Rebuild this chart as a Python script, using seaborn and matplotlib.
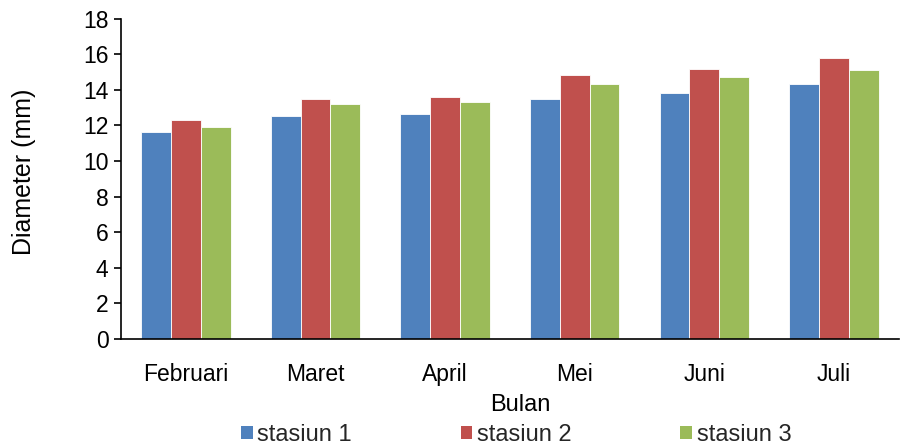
import matplotlib
matplotlib.use("Agg")
import matplotlib.pyplot as plt
from matplotlib.patches import Patch
import seaborn as sns
import pandas as pd

months = ["Februari", "Maret", "April", "Mei", "Juni", "Juli"]
stasiun_1 = [11.6, 12.5, 12.65, 13.5, 13.8, 14.3]
stasiun_2 = [12.3, 13.5, 13.6, 14.8, 15.15, 15.8]
stasiun_3 = [11.9, 13.2, 13.3, 14.3, 14.7, 15.1]
series_names = ["stasiun 1", "stasiun 2", "stasiun 3"]
colors = ["#4F81BD", "#C0504D", "#9BBB59"]

rows = []
for name, vals in zip(series_names, [stasiun_1, stasiun_2, stasiun_3]):
    for m, v in zip(months, vals):
        rows.append({"Bulan": m, "Stasiun": name, "Diameter": v})
df = pd.DataFrame(rows)

sns.set_theme(style="white")
plt.rcParams["font.family"] = ["Liberation Sans", "DejaVu Sans"]

fig = plt.figure(figsize=(9.07, 4.47), dpi=100)
ax = fig.add_axes([0.1334, 0.2416, 0.8576, 0.717])

sns.barplot(data=df, x="Bulan", y="Diameter", hue="Stasiun",
            order=months, hue_order=series_names, palette=colors,
            width=0.69, gap=0, edgecolor="white", linewidth=0.6,
            saturation=1, legend=False, ax=ax)

ax.set_ylim(0, 18)
ax.set_yticks(range(0, 19, 2))
ax.set_xlim(-0.5, len(months) - 0.5)
for s in ["top", "right"]:
    ax.spines[s].set_visible(False)
for s in ["left", "bottom"]:
    ax.spines[s].set_color("black")
    ax.spines[s].set_linewidth(1.2)
ax.tick_params(axis="y", which="major", left=True, length=5, width=1.2,
               color="black", labelsize=16.5, pad=4, labelcolor="black")
ax.tick_params(axis="x", bottom=False, labelsize=16.5, pad=11, labelcolor="black")
ax.set_ylabel("Diameter (mm)", fontsize=18, color="black")
ax.yaxis.set_label_coords(-0.109, 0.523)
ax.set_xlabel("Bulan", fontsize=17, color="black")
ax.xaxis.set_label_coords(0.514, -0.173)

handles = [Patch(facecolor=c, edgecolor="none", label=n) for c, n in zip(colors, series_names)]
fig.legend(handles=handles, loc="center", bbox_to_anchor=(0.569, 0.027), ncol=3,
           frameon=False, fontsize=17, handlelength=0.5, handleheight=0.5,
           handletextpad=0.2, columnspacing=4.6, borderpad=0)

fig.savefig("out.png", dpi=100)
